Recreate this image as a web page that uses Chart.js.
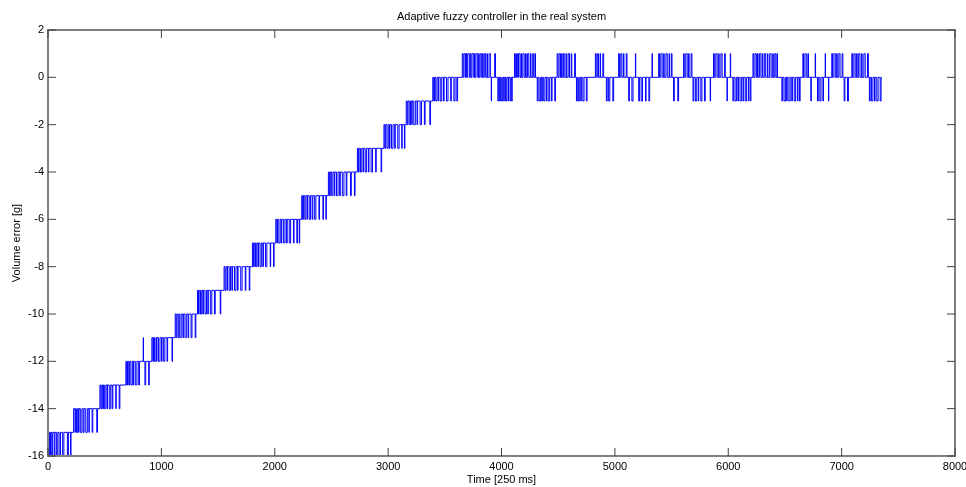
<!DOCTYPE html>
<html>
<head>
<meta charset="utf-8">
<title>Adaptive fuzzy controller in the real system</title>
<script src="https://cdn.jsdelivr.net/npm/chart.js@4.4.1/dist/chart.umd.min.js"></script>
<style>
  html, body { margin: 0; padding: 0; background: #fff; }
  #wrap { width: 966px; height: 487px; }
</style>
</head>
<body>
<div id="wrap"><canvas id="chart" width="966" height="487"></canvas></div>
<script>
// staircase part: sample index [250 ms] where the error changes, and the new value [g]
const rampTime = [
  0,
  5, 14, 22, 33, 41, 55, 61, 74, 86, 98, 110, 129, 140, 171, 180, 199, 203,
  226, 238, 244, 251, 262, 270, 273, 285, 299, 310, 318, 333, 347, 361, 364, 389, 395, 430, 437,
  458, 466, 475, 483, 489, 497, 510, 521, 524, 540, 553, 566, 572, 598, 601, 628, 634,
  687, 694, 701, 712, 720, 731, 744, 752, 756, 770, 784, 800, 807, 840, 842, 855, 862, 888, 893,
  916, 925, 931, 940, 952, 958, 961, 975, 988, 1001, 1006, 1020, 1031, 1050, 1055, 1094, 1098,
  1122, 1130, 1137, 1148, 1156, 1163, 1175, 1190, 1194, 1208, 1220, 1235, 1241, 1262, 1270, 1298, 1304,
  1319, 1328, 1333, 1345, 1356, 1366, 1371, 1385, 1398, 1410, 1414, 1432, 1445, 1468, 1475, 1519, 1524,
  1553, 1561, 1570, 1580, 1584, 1598, 1610, 1622, 1628, 1645, 1658, 1672, 1676, 1700, 1712, 1740, 1745, 1775, 1780,
  1803, 1812, 1819, 1830, 1841, 1852, 1856, 1870, 1882, 1895, 1900, 1918, 1930, 1960, 1964, 1990, 1994,
  2009, 2018, 2024, 2036, 2048, 2058, 2062, 2078, 2090, 2103, 2110, 2128, 2140, 2165, 2170, 2195, 2200, 2216, 2220,
  2238, 2246, 2253, 2265, 2275, 2286, 2290, 2304, 2316, 2330, 2336, 2352, 2363, 2390, 2395, 2425, 2430, 2451, 2455,
  2473, 2482, 2490, 2502, 2513, 2525, 2530, 2545, 2558, 2572, 2578, 2596, 2610, 2630, 2636, 2668, 2675, 2703, 2708,
  2729, 2738, 2744, 2756, 2768, 2780, 2784, 2798, 2810, 2826, 2831, 2850, 2862, 2890, 2895, 2938, 2943,
  2963, 2971, 2978, 2990, 3001, 3012, 3016, 3030, 3043, 3058, 3063, 3085, 3097, 3120, 3124, 3144, 3148,
  3160, 3168, 3175, 3186, 3197, 3208, 3212, 3226, 3240, 3255, 3260, 3282, 3294, 3320, 3326, 3368, 3374,
  3394, 3402, 3409, 3420, 3431, 3442, 3446, 3460, 3473, 3488, 3494, 3515, 3528, 3552, 3557, 3580, 3590, 3606, 3613
];
const rampError = [
  -16,
  -15, -16, -15, -16, -15, -16, -15, -16, -15, -16, -15, -16, -15, -16, -15, -16, -15,
  -14, -15, -14, -15, -14, -15, -14, -15, -14, -15, -14, -15, -14, -15, -14, -15, -14, -15, -14,
  -13, -14, -13, -14, -13, -14, -13, -14, -13, -14, -13, -14, -13, -14, -13, -14, -13,
  -12, -13, -12, -13, -12, -13, -12, -13, -12, -13, -12, -13, -12, -11, -12, -13, -12, -13, -12,
  -11, -12, -11, -12, -11, -12, -11, -12, -11, -12, -11, -12, -11, -12, -11, -12, -11,
  -10, -11, -10, -11, -10, -11, -10, -11, -10, -11, -10, -11, -10, -11, -10, -11, -10,
  -9, -10, -9, -10, -9, -10, -9, -10, -9, -10, -9, -10, -9, -10, -9, -10, -9,
  -8, -9, -8, -9, -8, -9, -8, -9, -8, -9, -8, -9, -8, -9, -8, -9, -8, -9, -8,
  -7, -8, -7, -8, -7, -8, -7, -8, -7, -8, -7, -8, -7, -8, -7, -8, -7,
  -6, -7, -6, -7, -6, -7, -6, -7, -6, -7, -6, -7, -6, -7, -6, -7, -6, -7, -6,
  -5, -6, -5, -6, -5, -6, -5, -6, -5, -6, -5, -6, -5, -6, -5, -6, -5, -6, -5,
  -4, -5, -4, -5, -4, -5, -4, -5, -4, -5, -4, -5, -4, -5, -4, -5, -4, -5, -4,
  -3, -4, -3, -4, -3, -4, -3, -4, -3, -4, -3, -4, -3, -4, -3, -4, -3,
  -2, -3, -2, -3, -2, -3, -2, -3, -2, -3, -2, -3, -2, -3, -2, -3, -2,
  -1, -2, -1, -2, -1, -2, -1, -2, -1, -2, -1, -2, -1, -2, -1, -2, -1,
  0, -1, 0, -1, 0, -1, 0, -1, 0, -1, 0, -1, 0, -1, 0, -1, 0, -1, 0
];

// holding part around 0 g
const holdTime = [
  3654, 3662, 3670, 3683, 3690, 3694, 3702, 3716, 3725, 3731, 3740, 3755, 3762, 3766, 3775, 3790, 3798, 3803, 3812, 3825, 3834, 3838, 3848, 3860, 3872, 3876, 3890, 3902,
  3910, 3912, 3940, 3947,
  3968, 3975, 3984, 3990, 3998, 4010, 4020, 4024, 4035, 4046, 4058, 4062, 4075, 4082, 4090, 4094,
  4115, 4122, 4132, 4140, 4150, 4163, 4172, 4176, 4188, 4200, 4212, 4218, 4230, 4241, 4255, 4260, 4275, 4284, 4295, 4300,
  4315, 4322, 4332, 4345, 4355, 4360, 4372, 4383, 4396, 4400, 4412, 4425, 4440, 4446, 4470, 4476,
  4491, 4498, 4508, 4520, 4530, 4535, 4546, 4558, 4570, 4575, 4588, 4600, 4615, 4620, 4645, 4652,
  4661, 4668, 4678, 4690, 4700, 4704, 4718, 4728, 4748, 4755,
  4828, 4835, 4845, 4856, 4870, 4874, 4894, 4901,
  4925, 4932, 4945, 4955, 4982, 4989,
  5033, 5040, 5052, 5062, 5075, 5080, 5100, 5107,
  5122, 5128, 5150, 5160,
  5181, 5184,
  5210, 5218, 5232, 5244, 5270, 5275, 5300, 5307,
  5328, 5331,
  5386, 5393, 5405, 5417, 5430, 5435, 5450, 5462, 5478, 5483, 5498, 5504,
  5518, 5524, 5555, 5562,
  5606, 5612, 5625, 5638, 5650, 5655, 5672, 5680,
  5689, 5696, 5710, 5722, 5736, 5740, 5758, 5768, 5790, 5797,
  5841, 5844,
  5870, 5877, 5890, 5902, 5915, 5920, 5935, 5946, 5968, 5974,
  5989, 5992, 6018, 6021,
  6041, 6048, 6060, 6072, 6085, 6090, 6104, 6116, 6130, 6136, 6150, 6162, 6178, 6182, 6194, 6200,
  6218, 6225, 6236, 6248, 6258, 6263, 6275, 6288, 6300, 6305, 6318, 6330, 6345, 6350, 6365, 6378, 6392, 6397, 6410, 6420, 6430, 6434,
  6473, 6480, 6492, 6504, 6515, 6520, 6535, 6546, 6560, 6566, 6582, 6594, 6610, 6615, 6628, 6634,
  6658, 6664, 6676, 6688, 6702, 6708,
  6729, 6732, 6767, 6770,
  6787, 6794, 6808, 6818, 6835, 6840,
  6855, 6858, 6884, 6887,
  6913, 6920, 6932, 6944, 6956, 6961, 6975, 6986, 7004, 7011,
  7022, 7029, 7052, 7060,
  7090, 7097, 7108, 7120, 7132, 7137, 7150, 7162, 7176, 7181, 7196, 7208, 7228, 7236,
  7245, 7252, 7264, 7276, 7290, 7295, 7310, 7322, 7340, 7348,
  7354
];
const holdError = [
  1, 0, 1, 0, 1, 0, 1, 0, 1, 0, 1, 0, 1, 0, 1, 0, 1, 0, 1, 0, 1, 0, 1, 0, 1, 0, 1, 0,
  -1, 0, 1, 0,
  -1, 0, -1, 0, -1, 0, -1, 0, -1, 0, -1, 0, -1, 0, -1, 0,
  1, 0, 1, 0, 1, 0, 1, 0, 1, 0, 1, 0, 1, 0, 1, 0, 1, 0, 1, 0,
  -1, 0, -1, 0, -1, 0, -1, 0, -1, 0, -1, 0, -1, 0, -1, 0,
  1, 0, 1, 0, 1, 0, 1, 0, 1, 0, 1, 0, 1, 0, 1, 0,
  -1, 0, -1, 0, -1, 0, -1, 0, -1, 0,
  1, 0, 1, 0, 1, 0, 1, 0,
  -1, 0, -1, 0, -1, 0,
  1, 0, 1, 0, 1, 0, 1, 0,
  -1, 0, -1, 0,
  1, 0,
  -1, 0, -1, 0, -1, 0, -1, 0,
  1, 0,
  1, 0, 1, 0, 1, 0, 1, 0, 1, 0, 1, 0,
  -1, 0, -1, 0,
  1, 0, 1, 0, 1, 0, 1, 0,
  -1, 0, -1, 0, -1, 0, -1, 0, -1, 0,
  -1, 0,
  1, 0, 1, 0, 1, 0, 1, 0, 1, 0,
  -1, 0, 1, 0,
  -1, 0, -1, 0, -1, 0, -1, 0, -1, 0, -1, 0, -1, 0, -1, 0,
  1, 0, 1, 0, 1, 0, 1, 0, 1, 0, 1, 0, 1, 0, 1, 0, 1, 0, 1, 0, 1, 0,
  -1, 0, -1, 0, -1, 0, -1, 0, -1, 0, -1, 0, -1, 0, -1, 0,
  1, 0, 1, 0, 1, 0,
  -1, 0, 1, 0,
  -1, 0, -1, 0, -1, 0,
  1, 0, -1, 0,
  1, 0, 1, 0, 1, 0, 1, 0, 1, 0,
  -1, 0, -1, 0,
  1, 0, 1, 0, 1, 0, 1, 0, 1, 0, 1, 0, 1, 0,
  -1, 0, -1, 0, -1, 0, -1, 0, -1, 0,
  0
];

const xTicks = [0, 1000, 2000, 3000, 4000, 5000, 6000, 7000, 8000];
const yTicks = [-16, -14, -12, -10, -8, -6, -4, -2, 0, 2];

const points = rampTime.map((t, i) => ({ x: t, y: rampError[i] }))
  .concat(holdTime.map((t, i) => ({ x: t, y: holdError[i] })));

const font = { family: '"Liberation Sans", Arial, sans-serif', size: 11, weight: 'normal' };

// matlab style box with inward ticks on all four sides
const boxPlugin = {
  id: 'box',
  afterDatasetsDraw(chart) {
    const { ctx, chartArea: a, scales: { x, y } } = chart;
    ctx.save();
    ctx.strokeStyle = '#808080';
    ctx.lineWidth = 2;
    ctx.strokeRect(a.left, a.top, a.right - a.left, a.bottom - a.top);
    ctx.strokeStyle = '#404040';
    ctx.lineWidth = 1;
    ctx.beginPath();
    xTicks.forEach(v => {
      const px = x.getPixelForValue(v);
      ctx.moveTo(px, a.bottom); ctx.lineTo(px, a.bottom - 8);
      ctx.moveTo(px, a.top); ctx.lineTo(px, a.top + 8);
    });
    yTicks.forEach(v => {
      const py = y.getPixelForValue(v);
      ctx.moveTo(a.left, py); ctx.lineTo(a.left + 8, py);
      ctx.moveTo(a.right, py); ctx.lineTo(a.right - 8, py);
    });
    ctx.stroke();
    ctx.restore();
  }
};

new Chart(document.getElementById('chart'), {
  type: 'line',
  data: {
    datasets: [{
      data: points,
      borderColor: '#0000ff',
      borderWidth: 1,
      pointRadius: 0,
      stepped: true,
      fill: false
    }]
  },
  options: {
    responsive: false,
    animation: false,
    events: [],
    layout: { padding: { left: 0, right: 11, top: 0, bottom: 0 } },
    plugins: {
      legend: { display: false },
      tooltip: { enabled: false },
      title: {
        display: true,
        text: 'Adaptive fuzzy controller in the real system',
        color: '#000',
        font: font,
        fullSize: false,
        padding: { top: 10, bottom: 6.8 }
      }
    },
    scales: {
      x: {
        type: 'linear',
        min: 0,
        max: 8000,
        grid: { display: false, drawTicks: false },
        border: { display: false },
        ticks: { padding: 4, color: '#000', font: font, maxRotation: 0, autoSkip: false, callback: v => String(v) },
        afterBuildTicks: s => { s.ticks = xTicks.map(v => ({ value: v })); },
        title: { display: true, text: 'Time [250 ms]', color: '#000', font: font, padding: { top: 0, bottom: 0.5 } },
        afterFit: s => { s.height = 31; s.paddingLeft = 0; s.paddingRight = 0; }
      },
      y: {
        min: -16,
        max: 2,
        grid: { display: false, drawTicks: false },
        border: { display: false },
        ticks: { padding: 4, color: '#000', font: font, callback: v => String(v) },
        afterBuildTicks: s => { s.ticks = yTicks.map(v => ({ value: v })); },
        title: { display: true, text: 'Volume error [g]', color: '#000', font: font, padding: { top: 10, bottom: 0 } },
        afterFit: s => { s.width = 48; s.paddingTop = 0; s.paddingBottom = 0; }
      }
    }
  },
  plugins: [boxPlugin]
});
</script>
</body>
</html>
